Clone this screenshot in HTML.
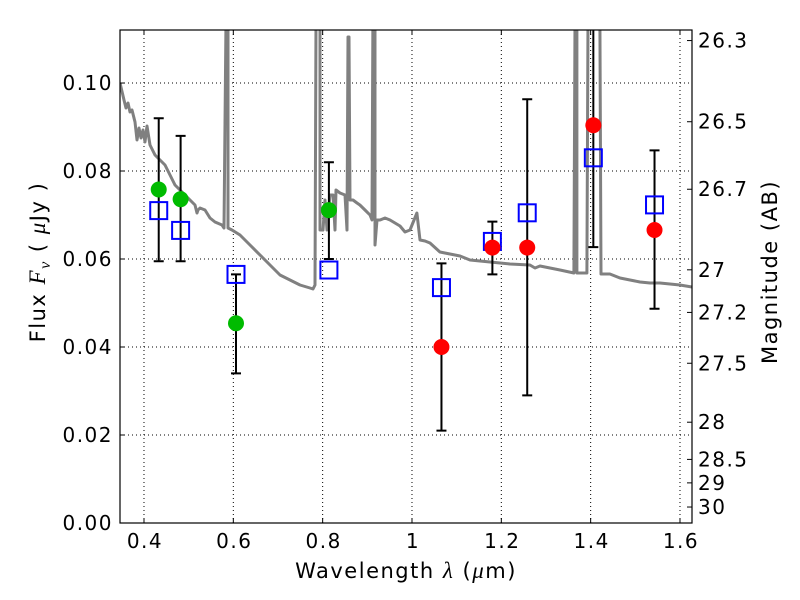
<!DOCTYPE html>
<html><head><meta charset="utf-8"><style>
body{margin:0;background:#fff}
svg{display:block}
text{font-family:"DejaVu Sans","Liberation Sans",sans-serif;fill:#000;letter-spacing:1.5px}
.m{font-family:"Liberation Serif","DejaVu Serif",serif;font-style:italic}
</style></head><body>
<svg id="chart" width="800" height="600">
<defs><clipPath id="clip"><rect x="120" y="30" width="572" height="493"/></clipPath></defs>
<g id="grid"></g>
<g id="model" clip-path="url(#clip)"></g>
<g id="errs" clip-path="url(#clip)"></g>
<g id="marks" clip-path="url(#clip)"></g>
<rect x="120" y="30" width="572" height="493" fill="none" stroke="#000" stroke-width="1.2"/>
<g id="axes"></g>
<text x="406" y="578" font-size="21" text-anchor="middle">Wavelength  <tspan class="m" font-size="23">λ</tspan> (<tspan class="m" font-size="23">μ</tspan>m)</text>
<text transform="translate(45,262) rotate(-90)" font-size="21" text-anchor="middle">Flux  <tspan class="m" font-size="23">F</tspan><tspan class="m" font-size="16" dy="5">ν</tspan><tspan dy="-5">  ( </tspan><tspan class="m" font-size="23">μ</tspan>Jy )</text>
<text transform="translate(777,272) rotate(-90)" font-size="21" text-anchor="middle">Magnitude (AB)</text>
</svg>
<script>
const xTicks=[0.4,0.6,0.8,1.0,1.2,1.4,1.6];
const xTickLabels=["0.4","0.6","0.8","1","1.2","1.4","1.6"];
const yTicks=[0,0.02,0.04,0.06,0.08,0.10];
const yTickLabels=["0.00","0.02","0.04","0.06","0.08","0.10"];
const magTicks=[26.3,26.5,26.7,27,27.2,27.5,28,28.5,29,30];
const magLabels=["26.3","26.5","26.7","27","27.2","27.5","28","28.5","29","30"];
const obsWave=[0.433,0.482,0.606,0.814,1.066,1.18,1.258,1.406,1.543];
const obsFlux=[0.0758,0.0736,0.0454,0.0711,0.040,0.0626,0.0626,0.0904,0.0666];
const obsColor=["#00bb00","#00bb00","#00bb00","#00bb00","#ff0000","#ff0000","#ff0000","#ff0000","#ff0000"];
const errHigh=[0.092,0.088,0.0565,0.082,0.059,0.0685,0.0963,0.13,0.0847];
const errLow=[0.0595,0.0595,0.034,0.060,0.021,0.0565,0.029,0.0627,0.0487];
const modelFlux=[0.071,0.0665,0.0565,0.0575,0.0535,0.064,0.0705,0.083,0.0723];
const specPx=[[120,83],[124,100],[126,108],[128,103],[130,112],[132,110],[135,122],[137,140],[139,128],[141,138],[143,130],[145,142],[147,126],[150,145],[155,155],[160,160],[165,165],[170,175],[175,185],[180,190],[185,195],[190,200],[195,205],[197,213],[198,210],[200,208],[205,210],[210,218],[215,222],[222,225],[224,228],[226,20],[228,20],[228,228],[232,230],[240,235],[250,245],[260,255],[270,265],[280,275],[290,280],[300,285],[310,288],[313,289],[315,285],[316,20],[320,20],[320,230],[323,230],[325,200],[327,230],[330,195],[333,195],[335,230],[336,190],[340,193],[345,195],[347,230],[348,37],[349,37],[350,200],[353,200],[357,203],[360,205],[365,210],[370,215],[372,220],[373,20],[375,20],[375,245],[377,220],[380,220],[385,218],[390,220],[400,226],[405,232],[410,230],[417,213],[420,240],[425,241],[430,243],[440,252],[445,253],[455,255],[460,256],[470,260],[480,261],[500,263],[510,264],[530,265],[535,268],[540,266],[550,268],[560,270],[574,273],[575,20],[577,20],[577,273],[587,273],[588,20],[600,20],[601,274],[610,274],[620,278],[630,280],[640,282],[650,283],[660,283],[670,284],[680,285],[692,287]];
const specWave=specPx.map(p=>+(0.4+(p[0]-144)/446.7).toFixed(4));
const specFlux=specPx.map(p=>+((523-p[1])/4400).toFixed(5));

const X0=120,X1=692,Y0=523,Y1=30,xmin=0.3463,xmax=1.6269,ymin=0,ymax=0.11205;
const sx=v=>X0+(v-xmin)/(xmax-xmin)*(X1-X0);
const sy=v=>Y0-(v-ymin)/(ymax-ymin)*(Y0-Y1);
const NS="http://www.w3.org/2000/svg";
function mk(tag,at,parent){const e=document.createElementNS(NS,tag);for(const k in at)e.setAttribute(k,at[k]);document.getElementById(parent).appendChild(e);return e;}

xTicks.forEach((t,i)=>{const x=sx(t);
 let g=mk('line',{x1:x,x2:x,y1:Y1,y2:Y0,stroke:'#000','stroke-width':1,'stroke-dasharray':'1,3'},'grid');
 
 
 let a=mk('line',{x1:x,x2:x,y1:Y0,y2:Y0-5,stroke:'#000'},'axes');
 
 
 let b=mk('line',{x1:x,x2:x,y1:Y1,y2:Y1+5,stroke:'#000'},'axes');
 
 
 let l=mk('text',{x:x+1,y:548,'font-size':20,'text-anchor':'middle'},'axes');l.textContent=xTickLabels[i];
 
 
});
yTicks.forEach((t,i)=>{const y=sy(t);
 if(i>0){let g=mk('line',{x1:X0,x2:X1,y1:y,y2:y,stroke:'#000','stroke-width':1,'stroke-dasharray':'1,3'},'grid');
 
 }
 let a=mk('line',{x1:X0,x2:X0+5,y1:y,y2:y,stroke:'#000'},'axes');
 
 
 let l=mk('text',{x:113,y:y+7,'font-size':20,'text-anchor':'end'},'axes');l.textContent=yTickLabels[i];
 
 
});
magTicks.forEach((m,i)=>{const y=sy(Math.pow(10,(23.9-m)/2.5));
 let a=mk('line',{x1:X1-5,x2:X1,y1:y,y2:y,stroke:'#000'},'axes');
 
 
 let l=mk('text',{x:698,y:y+7,'font-size':20},'axes');l.textContent=magLabels[i];
 
 
});
let d=specWave.map((w,i)=>(i?'L':'M')+sx(w).toFixed(1)+','+sy(specFlux[i]).toFixed(1)).join('');
let sp=mk('path',{d:d,fill:'none',stroke:'#808080','stroke-width':3,'stroke-linejoin':'round'},'model');


obsWave.forEach((w,i)=>{const x=sx(w),yh=sy(errHigh[i]),yl=sy(errLow[i]);
 let e=mk('path',{d:`M${x},${yh}V${yl}M${x-5},${yh}H${x+5}M${x-5},${yl}H${x+5}`,stroke:'#000','stroke-width':2,fill:'none'},'errs');
 
 
});
obsWave.forEach((w,i)=>{const x=sx(w);
 let s=mk('rect',{x:x-8.5,y:sy(modelFlux[i])-8.5,width:17,height:17,fill:'none',stroke:'#0000ff','stroke-width':2},'marks');
 
 
});
obsWave.forEach((w,i)=>{
 let c=mk('circle',{cx:sx(w),cy:sy(obsFlux[i]),r:8,fill:obsColor[i]},'marks');
 
 
});
</script>
</body></html>
